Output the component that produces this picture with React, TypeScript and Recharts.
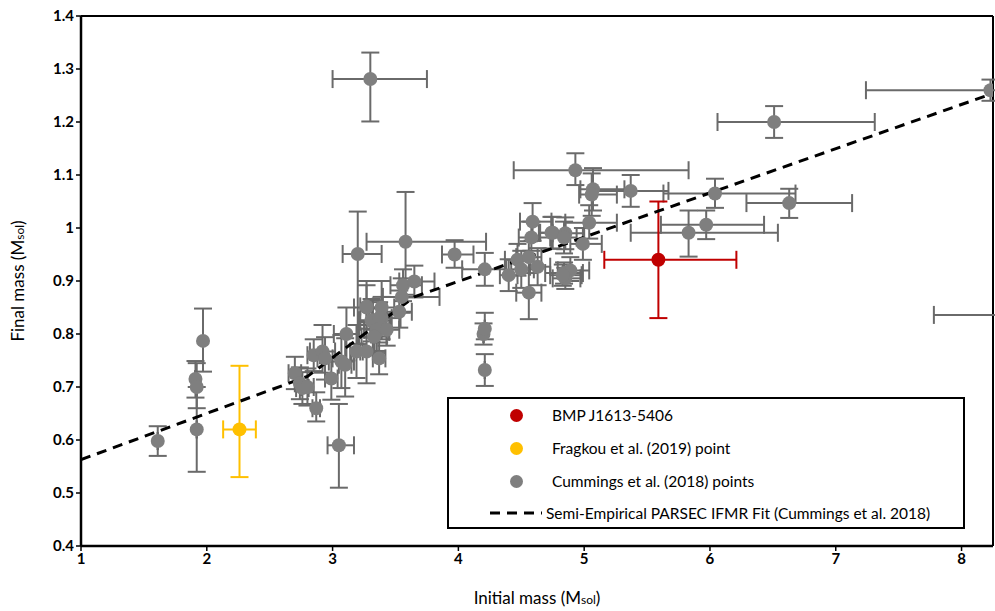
import React from 'react';
import { ScatterChart, Scatter, XAxis, YAxis, ErrorBar, ReferenceLine } from 'recharts';

// each row: [initial mass, final mass, x err -, x err +, y err -, y err +]
type Row = [number, number, number, number, number, number];

const cummingsPoints: Row[] = [
  [1.61, 0.598, 0, 0, 0.028, 0.028],
  [1.91, 0.715, 0, 0, 0.035, 0.034],
  [1.92, 0.7, 0, 0, 0.04, 0.045],
  [1.92, 0.62, 0, 0, 0.08, 0.08],
  [1.97, 0.787, 0, 0, 0.058, 0.061],
  [2.7, 0.726, 0.05, 0.05, 0.03, 0.031],
  [2.74, 0.707, 0.04, 0.06, 0.03, 0.03],
  [2.76, 0.698, 0.05, 0.05, 0.03, 0.03],
  [2.8, 0.7, 0.05, 0.05, 0.035, 0.035],
  [2.87, 0.66, 0.03, 0.03, 0.025, 0.03],
  [2.85, 0.76, 0.05, 0.05, 0.03, 0.03],
  [2.92, 0.767, 0.1, 0.1, 0.04, 0.05],
  [2.94, 0.754, 0.06, 0.06, 0.04, 0.04],
  [2.99, 0.716, 0.05, 0.05, 0.04, 0.04],
  [3.07, 0.748, 0.1, 0.1, 0.05, 0.05],
  [3.1, 0.742, 0.05, 0.05, 0.06, 0.05],
  [3.11, 0.8, 0.1, 0.1, 0.05, 0.05],
  [3.19, 0.767, 0.05, 0.05, 0.05, 0.05],
  [3.27, 0.767, 0.05, 0.05, 0.06, 0.05],
  [3.37, 0.754, 0.05, 0.05, 0.03, 0.03],
  [3.27, 0.852, 0.05, 0.05, 0.03, 0.04],
  [3.32, 0.823, 0.1, 0.1, 0.03, 0.04],
  [3.35, 0.804, 0.05, 0.1, 0.04, 0.03],
  [3.39, 0.83, 0.1, 0.15, 0.04, 0.04],
  [3.05, 0.59, 0.09, 0.12, 0.08, 0.078],
  [3.2, 0.951, 0.12, 0.19, 0.17, 0.08],
  [3.58, 0.974, 0.31, 0.64, 0.1, 0.094],
  [3.56, 0.892, 0.1, 0.15, 0.03, 0.03],
  [3.65, 0.899, 0.12, 0.16, 0.03, 0.03],
  [3.55, 0.87, 0.15, 0.3, 0.03, 0.035],
  [3.53, 0.842, 0.1, 0.1, 0.03, 0.04],
  [3.27, 0.85, 0.1, 0.1, 0.04, 0.05],
  [3.39, 0.85, 0.1, 0.1, 0.05, 0.05],
  [3.31, 0.826, 0.1, 0.15, 0.04, 0.04],
  [3.37, 0.83, 0.08, 0.1, 0.03, 0.03],
  [3.35, 0.808, 0.1, 0.1, 0.04, 0.04],
  [3.43, 0.808, 0.1, 0.1, 0.03, 0.03],
  [3.33, 0.795, 0.1, 0.1, 0.03, 0.03],
  [3.97, 0.95, 0.1, 0.15, 0.025, 0.027],
  [4.21, 0.922, 0.18, 0.17, 0.031, 0.031],
  [4.4, 0.911, 0.07, 0.07, 0.03, 0.03],
  [4.47, 0.94, 0.1, 0.1, 0.03, 0.03],
  [4.5, 0.922, 0.08, 0.1, 0.035, 0.035],
  [4.56, 0.945, 0.1, 0.1, 0.03, 0.03],
  [4.63, 0.927, 0.06, 0.1, 0.035, 0.035],
  [4.56, 0.878, 0.1, 0.1, 0.05, 0.045],
  [4.59, 1.012, 0.1, 0.15, 0.036, 0.035],
  [4.58, 0.982, 0.1, 0.15, 0.025, 0.03],
  [4.75, 0.991, 0.1, 0.1, 0.03, 0.03],
  [4.93, 1.109, 0.49, 0.9, 0.028, 0.032],
  [5.07, 1.073, 0.1, 0.25, 0.04, 0.04],
  [5.06, 1.063, 0.1, 0.2, 0.04, 0.04],
  [5.37, 1.07, 0.3, 0.3, 0.03, 0.03],
  [5.04, 1.01, 0.19, 0.22, 0.03, 0.033],
  [4.74, 0.991, 0.1, 0.1, 0.03, 0.03],
  [4.85, 0.99, 0.1, 0.15, 0.03, 0.03],
  [4.84, 0.982, 0.1, 0.1, 0.03, 0.03],
  [4.99, 0.97, 0.1, 0.15, 0.03, 0.03],
  [4.84, 0.915, 0.15, 0.15, 0.02, 0.02],
  [4.89, 0.92, 0.1, 0.15, 0.02, 0.025],
  [4.85, 0.905, 0.1, 0.12, 0.02, 0.02],
  [4.83, 0.911, 0.1, 0.15, 0.02, 0.02],
  [6.51, 1.2, 0.45, 0.8, 0.03, 0.03],
  [8.23, 1.26, 0.99, 0.6, 0.02, 0.02],
  [6.04, 1.065, 0.41, 0.64, 0.027, 0.028],
  [6.63, 1.047, 0.34, 0.5, 0.028, 0.027],
  [5.97, 1.006, 0.36, 0.46, 0.027, 0.027],
  [5.83, 0.991, 0.46, 0.71, 0.045, 0.042],
  [8.5, 0.836, 0.72, 0.3, 0.02, 0.02],
  [3.3, 1.281, 0.3, 0.45, 0.08, 0.05],
  [4.2, 0.8, 0, 0, 0.02, 0.02],
  [4.21, 0.81, 0, 0, 0.02, 0.03],
  [4.21, 0.732, 0, 0, 0.03, 0.03],
];

const fragkouPoint: Row[] = [[2.26, 0.62, 0.13, 0.13, 0.09, 0.12]];
const bmpPoint: Row[] = [[5.59, 0.94, 0.43, 0.62, 0.11, 0.11]];

// semi-empirical PARSEC IFMR (piecewise linear)
const fitX = [1, 2.8, 3.65, 8.25];
const fitY = [0.563, 0.72, 0.87, 1.254];

const xTicks = [1, 2, 3, 4, 5, 6, 7, 8];
const yTicks = [0.4, 0.5, 0.6, 0.7, 0.8, 0.9, 1, 1.1, 1.2, 1.3, 1.4];

const toData = (rows: Row[]) =>
  rows.map(([x, y, xm, xp, ym, yp]) => ({ x, y, ex: [xm, xp], ey: [ym, yp] }));

const fitData = fitX.map((x, i) => ({ x, y: fitY[i] }));

const GRAY = '#7f7f7f';
const BAR_GRAY = '#6a6a6a';
const RED = '#c00000';
const YELLOW = '#ffc000';
const FONT = 'Lato, "Open Sans", sans-serif';

const dot = (color: string) => (p: any) =>
  p.cx == null ? <g /> : <circle cx={p.cx} cy={p.cy} r={7} fill={color} />;

const legendItems = [
  { label: 'BMP J1613-5406', color: RED },
  { label: 'Fragkou et al. (2019) point', color: YELLOW },
  { label: 'Cummings et al. (2018) points', color: GRAY },
];

const LegendBox = () => (
  <div
    style={{
      position: 'absolute',
      left: 447,
      top: 397,
      width: 514,
      height: 128,
      border: '2px solid #000',
      background: '#fff',
      fontFamily: FONT,
      fontSize: 15.5,
      color: '#000',
    }}
  >
    {legendItems.map((it, i) => (
      <div key={it.label} style={{ position: 'absolute', left: 57, top: 6 + i * 33, height: 20, display: 'flex', alignItems: 'center' }}>
        <span style={{ width: 13, height: 13, borderRadius: '50%', background: it.color, display: 'inline-block', marginLeft: 4 }} />
        <span style={{ marginLeft: 29 }}>{it.label}</span>
      </div>
    ))}
    <div style={{ position: 'absolute', left: 41, top: 104, height: 20, display: 'flex', alignItems: 'center' }}>
      <svg width={52} height={6}>
        <line x1={0} y1={3} x2={52} y2={3} stroke="#000" strokeWidth={3} strokeDasharray="10 7" />
      </svg>
      <span style={{ marginLeft: 4 }}>Semi-Empirical PARSEC IFMR Fit (Cummings et al. 2018)</span>
    </div>
  </div>
);

const App: React.FC = () => {
  return (
    <div style={{ position: 'absolute', left: 0, top: 0, width: 995, height: 611, background: '#fff' }}>
      <ScatterChart width={995} height={611} margin={{ top: 16, right: 2, bottom: 0, left: 0 }}>
        <XAxis
          type="number"
          dataKey="x"
          domain={[1, 8.25]}
          ticks={xTicks}
          allowDataOverflow
          height={65}
          axisLine={{ stroke: '#000', strokeWidth: 2.5 }}
          tickLine={{ stroke: '#000', strokeWidth: 1.5 }}
          tickSize={5}
          tick={{ fill: '#000', fontSize: 15, fontWeight: 700, fontFamily: FONT }}
          label={{
            content: () => (
              <text x={537} y={604} textAnchor="middle" fontFamily={FONT} fontSize={17} fill="#000">
                Initial mass (M<tspan fontSize={12}>sol</tspan>)
              </text>
            ),
          }}
        />
        <YAxis
          type="number"
          dataKey="y"
          domain={[0.4, 1.4]}
          ticks={yTicks}
          allowDataOverflow
          width={81}
          axisLine={{ stroke: '#000', strokeWidth: 2.5 }}
          tickLine={{ stroke: '#000', strokeWidth: 1.5 }}
          tickSize={5}
          tickFormatter={(v: number) => String(Number(v.toFixed(1)))}
          tick={{ fill: '#000', fontSize: 15, fontWeight: 700, fontFamily: FONT }}
          label={{
            content: () => (
              <text
                x={24}
                y={281}
                textAnchor="middle"
                transform="rotate(-90 24 281)"
                fontFamily={FONT}
                fontSize={17}
                fill="#000"
              >
                Final mass  (M<tspan fontSize={12}>sol</tspan>)
              </text>
            ),
          }}
        />
        <ReferenceLine y={1.4} stroke="#000" strokeWidth={2} />
        <ReferenceLine x={8.25} stroke="#000" strokeWidth={2} />
        <Scatter
          name="fit"
          data={fitData}
          line={{ stroke: '#000', strokeWidth: 3, strokeDasharray: '10 7' }}
          shape={() => <g />}
          isAnimationActive={false}
          legendType="none"
        />
        <Scatter name="Cummings et al. (2018) points" data={toData(cummingsPoints)} shape={dot(GRAY)} isAnimationActive={false}>
          <ErrorBar dataKey="ex" direction="x" width={9} stroke={BAR_GRAY} strokeWidth={2} isAnimationActive={false} />
          <ErrorBar dataKey="ey" direction="y" width={9} stroke={BAR_GRAY} strokeWidth={2} isAnimationActive={false} />
        </Scatter>
        <Scatter name="Fragkou et al. (2019) point" data={toData(fragkouPoint)} shape={dot(YELLOW)} isAnimationActive={false}>
          <ErrorBar dataKey="ex" direction="x" width={9} stroke={YELLOW} strokeWidth={2} isAnimationActive={false} />
          <ErrorBar dataKey="ey" direction="y" width={9} stroke={YELLOW} strokeWidth={2} isAnimationActive={false} />
        </Scatter>
        <Scatter name="BMP J1613-5406" data={toData(bmpPoint)} shape={dot(RED)} isAnimationActive={false}>
          <ErrorBar dataKey="ex" direction="x" width={9} stroke={RED} strokeWidth={2} isAnimationActive={false} />
          <ErrorBar dataKey="ey" direction="y" width={9} stroke={RED} strokeWidth={2} isAnimationActive={false} />
        </Scatter>
      </ScatterChart>
      <LegendBox />
    </div>
  );
};

export default App;
